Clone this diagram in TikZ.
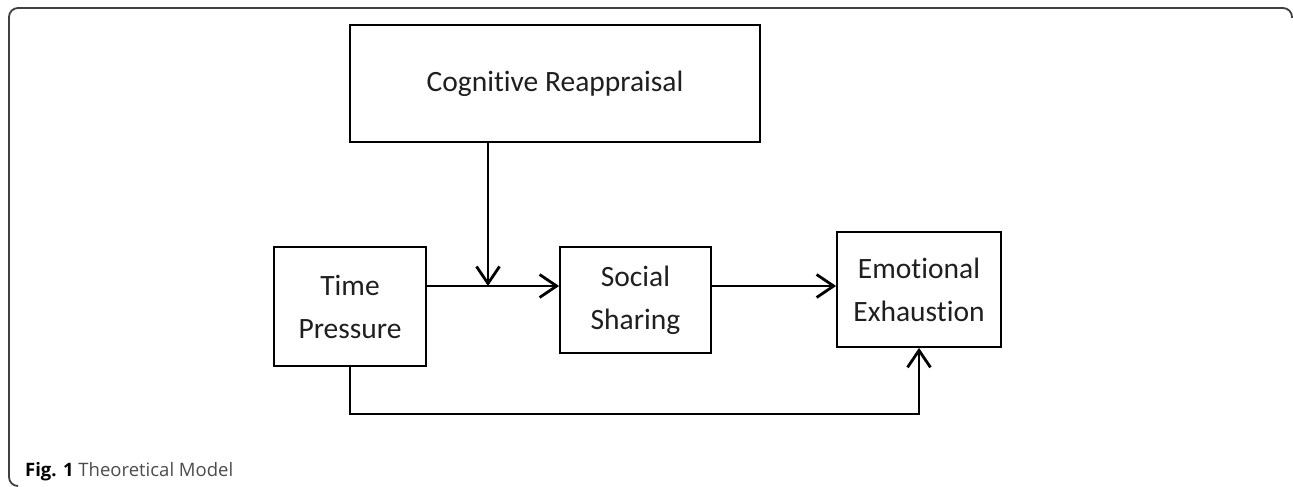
\documentclass[tikz,border=0pt]{standalone}
\usepackage{fontspec}
\setmainfont{Carlito}[Ligatures={NoCommon}]
\newfontfamily\capfont{Open Sans}
\usetikzlibrary{arrows.meta}

\begin{document}
\begin{tikzpicture}[x=1pt, y=-1pt]
\tikzset{box/.style={draw, line width=1.8pt, inner sep=0pt, align=center,
    font=\fontsize{29.5}{43}\selectfont, text=black!88}}
\tikzset{link/.style={line width=2.8pt, -{Straight Barb[length=17pt, width=23pt, line width=2.8pt]}}}
\useasboundingbox (0,0) rectangle (1293,487);
% frame
\draw[line width=1.8pt, black!75, rounded corners=9pt] (1292,18) |- (9,8) |- (17,486);
% boxes
\node[box, minimum width=410pt, minimum height=117pt] (cog) at (555,83.5) {Cognitive Reappraisal};
\node[box, minimum width=152pt, minimum height=119pt] (time) at (350,306.5) {Time\\Pressure};
\node[box, minimum width=151pt, minimum height=106pt] (social) at (635.5,300) {Social\\Sharing};
\node[box, minimum width=164pt, minimum height=115pt] (emo) at (919,289.5) {Emotional\\Exhaustion};
\coordinate (join) at (488,286);
\coordinate (low) at (350,414);
% paths
\draw[link] (cog.south -| join) -- (join);
\draw[link] (time.east |- join) -- (social.west |- join);
\draw[link] (social.east |- join) -- (emo.west |- join);
\draw[link, line join=miter] (time.south) |- (low -| emo.south) -- (emo.south);
% caption
\node[anchor=base west, inner sep=0pt, font=\capfont\fontsize{18.5}{22}\selectfont, text=black!70] (cap) at (25,476)
    {\textbf{\color{black}Fig. 1} Theoretical Model};
\end{tikzpicture}
\end{document}
